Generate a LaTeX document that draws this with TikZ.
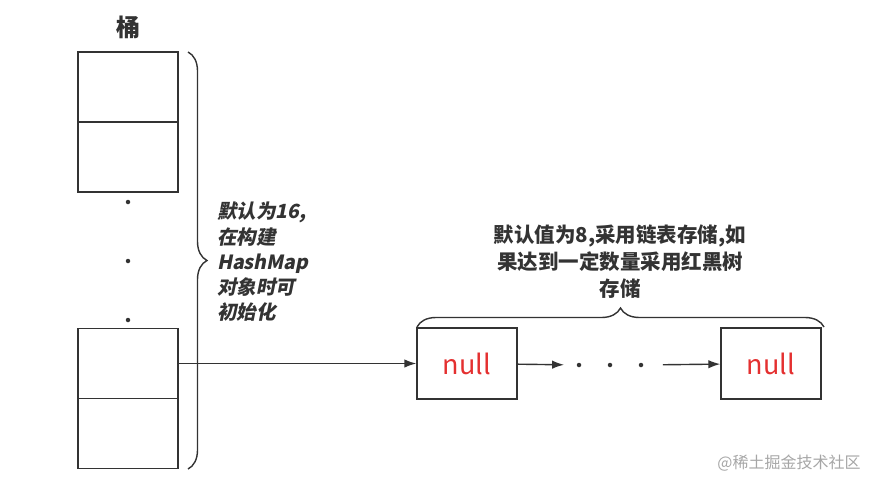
\documentclass[tikz,border=0pt]{standalone}
\usepackage{fontspec}
\setmainfont{Noto Sans CJK SC}
\newfontfamily\slfont{Noto Sans CJK SC}[FakeSlant=0.2]
\usetikzlibrary{arrows.meta,decorations.pathreplacing}
\definecolor{ink}{RGB}{51,51,51}
\definecolor{nullred}{RGB}{228,48,48}

\begin{document}
\begin{tikzpicture}[x=1pt,y=-1pt,>={Latex[length=12pt,width=8.5pt]},line width=1.4pt,draw=ink,
  cell/.style={draw,minimum width=100pt,minimum height=70pt,inner sep=0pt},
  dot/.style={circle,fill=ink,inner sep=0pt,minimum size=4.5pt},
  brace/.style={decorate,decoration={brace,amplitude=19pt}}]
\useasboundingbox (0,0) rectangle (886,491);
\node[text=ink,font=\fontsize{24}{24}\selectfont\bfseries] (T) at (128,27) {桶};
\node[cell] (b1) at (128,87) {};
\node[cell] (b2) at (128,157) {};
\node[dot] (v1) at (128,202) {};
\node[dot] (v2) at (128,261) {};
\node[dot] (v3) at (128,320) {};
\node[cell] (b3) at (128,363.5) {};
\node[cell] (b4) at (128,433.5) {};
\draw[brace] (188,52) -- (188,469);
\node[anchor=west,align=left,text=ink,font=\fontsize{19.5}{25.3}\selectfont\slfont\bfseries] (L) at (213,262)
  {默认为16,\\在构建\\HashMap\\对象时可\\初始化};
\node[cell,minimum height=71pt,text=nullred,font=\fontsize{27}{27}\selectfont] (n1) at (467,363.5) {null};
\node[cell,minimum height=71pt,text=nullred,font=\fontsize{27}{27}\selectfont] (n2) at (771,363.5) {null};
\node[dot] (d1) at (579,365) {};
\node[dot] (d2) at (610,365) {};
\node[dot] (d3) at (641,365) {};
\draw[->] (b3) -- (n1);
\draw[->,shorten >=12pt] (n1) -- (d1);
\draw[->,shorten <=19pt] (d3) -- (n2);
\draw[brace] (417,327) -- (824,327);
\node[align=center,text=ink,font=\fontsize{20.5}{27}\selectfont\bfseries] (R) at (620,262)
  {默认值为8,采用链表存储,如\\果达到一定数量采用红黑树\\存储};
\node[text=black!35,font=\fontsize{16}{16}\selectfont] (W) at (789,463) {@稀土掘金技术社区};
\end{tikzpicture}
\end{document}
